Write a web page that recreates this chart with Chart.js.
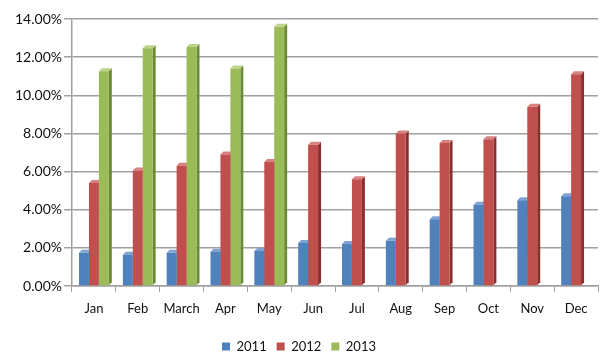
<!DOCTYPE html>
<html>
<head>
<meta charset="utf-8">
<script src="https://cdn.jsdelivr.net/npm/chart.js@4"></script>
<style>
  html, body { margin: 0; padding: 0; background: #fff; }
  #wrap { width: 615px; height: 363px; }
</style>
</head>
<body>
<div id="wrap"><canvas id="rates" width="615" height="363"></canvas></div>
<script>
const months = ['Jan', 'Feb', 'March', 'Apr', 'May', 'Jun', 'Jul', 'Aug', 'Sep', 'Oct', 'Nov', 'Dec'];
const years = ['2011', '2012', '2013'];
const rate2011 = [1.74, 1.64, 1.74, 1.80, 1.84, 2.26, 2.20, 2.37, 3.50, 4.26, 4.50, 4.70];
const rate2012 = [5.40, 6.05, 6.30, 6.90, 6.50, 7.40, 5.60, 8.00, 7.50, 7.70, 9.40, 11.10];
const rate2013 = [11.26, 12.47, 12.53, 11.40, 13.60, null, null, null, null, null, null, null];
const yTicks = [0, 2, 4, 6, 8, 10, 12, 14];

const colors = ['#4f81bd', '#c0504d', '#9bbb59'];
const sides = ['#2f5485', '#8a2f2c', '#6b8a32'];
const tops = ['#7ea3d3', '#d8817e', '#bcd488'];
const series = [rate2011, rate2012, rate2013];

// fake depth: side and top faces painted behind the bar fronts
const depth3d = {
    id: 'depth3d',
    beforeDatasetsDraw(chart) {
        const ctx = chart.ctx;
        const d = 3;
        series.forEach((vals, i) => {
            chart.getDatasetMeta(i).data.forEach((bar, j) => {
                if (vals[j] == null) return;
                const p = bar.getProps(['x', 'y', 'base', 'width'], true);
                const l = p.x - p.width / 2, r = p.x + p.width / 2;
                ctx.save();
                ctx.fillStyle = sides[i];
                ctx.beginPath();
                ctx.moveTo(r, p.y);
                ctx.lineTo(r + d, p.y - d);
                ctx.lineTo(r + d, p.base - d);
                ctx.lineTo(r, p.base);
                ctx.closePath();
                ctx.fill();
                ctx.fillStyle = tops[i];
                ctx.beginPath();
                ctx.moveTo(l, p.y);
                ctx.lineTo(l + d, p.y - d);
                ctx.lineTo(r + d, p.y - d);
                ctx.lineTo(r, p.y);
                ctx.closePath();
                ctx.fill();
                ctx.restore();
            });
        });
    }
};

const ctx = document.getElementById('rates').getContext('2d');
new Chart(ctx, {
    type: 'bar',
    data: {
        labels: months,
        datasets: series.map((vals, i) => ({
            label: years[i],
            data: vals,
            backgroundColor: colors[i],
            borderWidth: 0,
            categoryPercentage: 0.68,
            barPercentage: 1.0
        }))
    },
    options: {
        responsive: false,
        animation: false,
        layout: { padding: { top: 19, right: 17, left: 0, bottom: 0 } },
        plugins: {
            tooltip: { enabled: false },
            legend: {
                position: 'bottom',
                labels: {
                    boxWidth: 8,
                    boxHeight: 8,
                    padding: 10,
                    color: '#111',
                    font: { family: 'Lato', size: 13 }
                }
            }
        },
        scales: {
            x: {
                grid: {
                    drawOnChartArea: false,
                    drawTicks: true,
                    tickLength: 6,
                    color: '#a0a0a0'
                },
                border: { color: '#a0a0a0', width: 1.5 },
                ticks: {
                    color: '#111',
                    padding: 9,
                    maxRotation: 0,
                    autoSkip: false,
                    font: { family: 'Lato', size: 13 }
                },
                afterFit(scale) { scale.height = 44; }
            },
            y: {
                min: 0,
                max: 14,
                afterBuildTicks(scale) { scale.ticks = yTicks.map(v => ({ value: v })); },
                grid: {
                    color: '#a0a0a0',
                    lineWidth: 1.5,
                    tickLength: 8
                },
                border: { color: '#a0a0a0', width: 1.5 },
                ticks: {
                    color: '#111',
                    padding: 2,
                    font: { family: 'Lato', size: 14 },
                    callback: v => v.toFixed(2) + '%'
                },
                afterFit(scale) { scale.width = 72; }
            }
        }
    },
    plugins: [depth3d]
});
</script>
</body>
</html>
